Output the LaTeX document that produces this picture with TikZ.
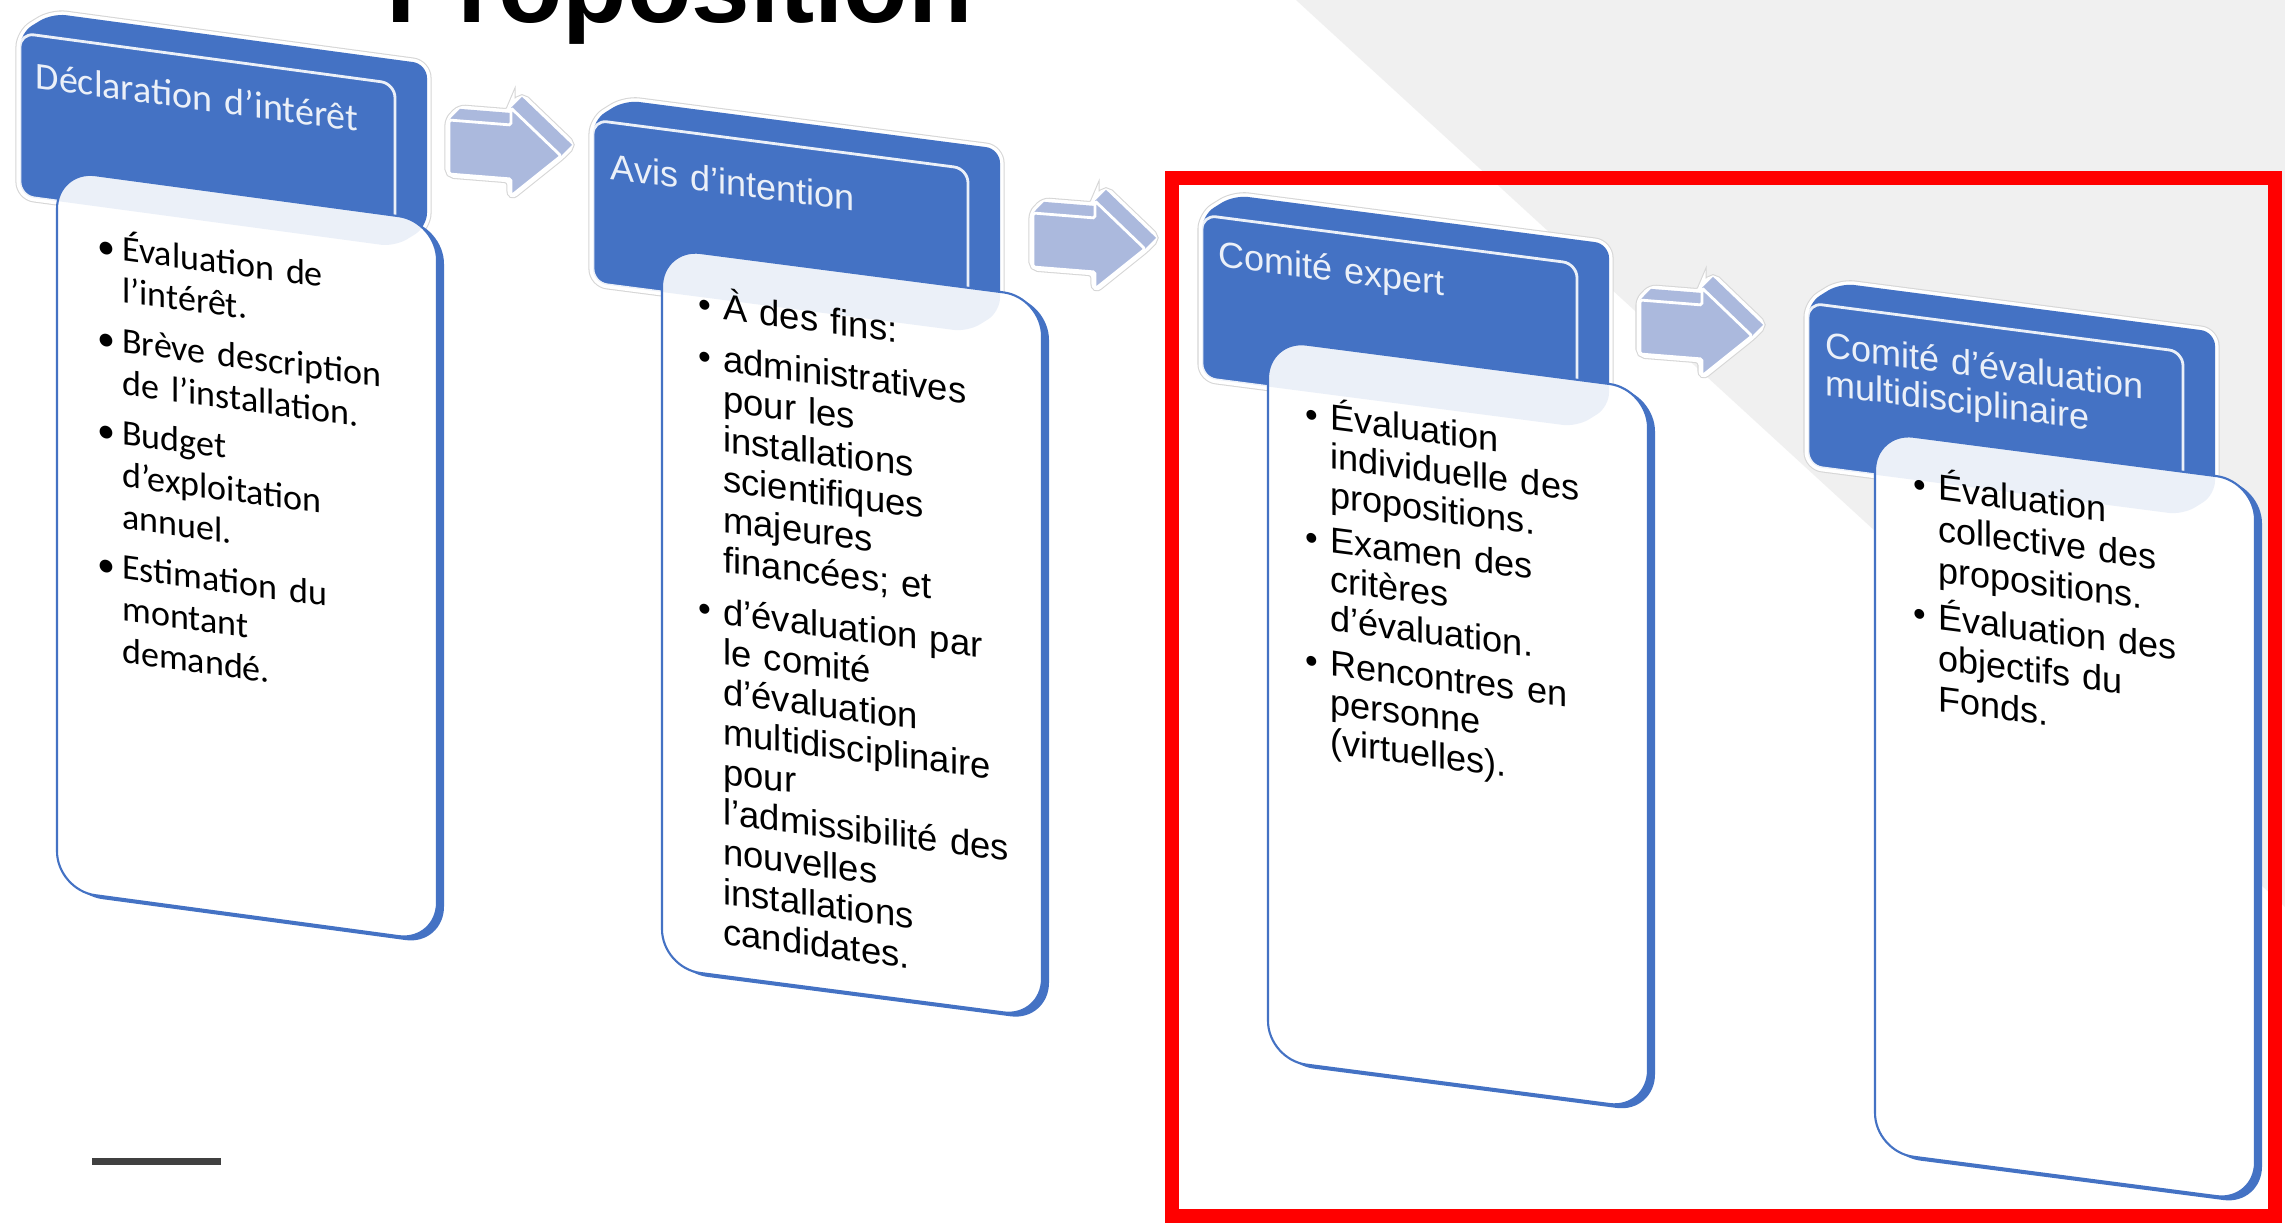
\documentclass[tikz,border=0pt]{standalone}
\usepackage{fontspec}
\setmainfont{Liberation Sans}
\newfontfamily\calibrifont{Carlito}
\usepackage{tikz}
\usetikzlibrary{positioning}

\definecolor{tabblue}{HTML}{4472C4}
\definecolor{arrowblue}{HTML}{ABB9DD}
\definecolor{bggray}{HTML}{F0F0F0}
\definecolor{glowgray}{HTML}{D6D6D6}
\definecolor{dashgray}{HTML}{404040}

\newcommand{\bulletmark}{\makebox[7pt][l]{\textbullet}}
\newcommand{\bulletpad}{\hspace*{7pt}}

\newcommand{\stageshape}{%
  \draw[glowouter] (0,163) -- (0,0) -- (32,-24) -- (407,-24) -- (407,139) -- (375,163) -- cycle;
  \draw[glowinner] (0,163) -- (0,0) -- (32,-24) -- (407,-24) -- (407,139) -- (375,163) -- cycle;
  \fill[tabblue, rounded corners=4pt] (0,163) -- (0,0) -- (32,-24) -- (407,-24) -- (407,139) -- (375,163) -- cycle;
  \draw[tabface] (0,0) rectangle (375,163);
}
\newcommand{\cardshape}[2]{%
  \fill[tabblue, rounded corners=11pt] ({#1+7},{#2+3}) rectangle ++(380,720);
  \filldraw[fill=white, draw=tabblue, line width=0.6pt, rounded corners=11pt] (#1,#2) rectangle ++(380,720);
  \fill[tabblue, fill opacity=0.1, rounded corners=4pt] (0,163) -- (0,0) -- (32,-24) -- (407,-24) -- (407,139) -- (375,163) -- cycle;
}
\newcommand{\arrowshape}{%
  \draw[glowouter, rounded corners=1.5pt] (0,54) -- (0,0) -- (11,-12) -- (62,-12) -- (62,-17) -- (73,-29) -- (123,15) -- (112,27) -- (62,71) -- (62,54) -- cycle;
  \draw[glowinner, rounded corners=1.5pt] (0,54) -- (0,0) -- (11,-12) -- (62,-12) -- (62,-17) -- (73,-29) -- (123,15) -- (112,27) -- (62,71) -- (62,54) -- cycle;
  \fill[arrowblue] (0,54) -- (0,0) -- (11,-12) -- (62,-12) -- (62,-17) -- (73,-29) -- (123,15) -- (112,27) -- (62,71) -- (62,54) -- cycle;
  \draw[tabface, rounded corners=0.5pt] (0,0) -- (62,0) -- (62,-17) -- (112,27) -- (62,71) -- (62,54) -- (0,54) -- cycle;
}

\begin{document}
\begin{tikzpicture}[
    x=0.01cm, y=-0.01cm,
    glowouter/.style={draw=glowgray, line width=2.6pt, rounded corners=4pt},
    glowinner/.style={draw=white, line width=2pt, rounded corners=4pt},
    tabface/.style={draw=white, line width=0.8pt, rounded corners=4pt},
    stagetitle/.style={anchor=base west, inner sep=0pt, text=white, text width=4.2cm, align=left, transform shape},
    stageitems/.style={anchor=base west, inner sep=0pt, text=black, text width=4.5cm, align=left, transform shape}
]

\useasboundingbox (0,0) rectangle (2285,1223);
\clip (0,0) rectangle (2285,1223);
\fill[white] (0,0) rectangle (2285,1223);
\fill[bggray] (1296,0) -- (2285,0) -- (2285,907) -- cycle;

\node[anchor=base west, inner sep=0pt, font=\bfseries\fontsize{30pt}{36pt}\selectfont] (heading) at (386,22) {Proposition};

\coordinate (arrow1) at (449,120);
\coordinate (arrow2) at (1033,213);
\coordinate (arrow3) at (1640,300);
\foreach \a in {arrow1,arrow2,arrow3} {
  \begin{scope}[shift={(\a)}, yslant=-0.08]
    \arrowshape
  \end{scope}
}

\begin{scope}[shift={(20,33)}, yslant=-0.135]
  \stageshape
  \node[stagetitle, font=\calibrifont\fontsize{10.8pt}{12pt}\selectfont] (decl) at (15,53) {Déclaration d’intérêt};
  \cardshape{37}{132}
  \node[stageitems, font=\calibrifont\fontsize{10.24pt}{11.95pt}\selectfont] (declitems) at (77,213.5) {%
    \bulletmark Évaluation de\\
    \bulletpad l’intérêt.\\[2.3pt]
    \bulletmark Brève description\\
    \bulletpad de l’installation.\\[2.3pt]
    \bulletmark Budget\\
    \bulletpad d’exploitation\\
    \bulletpad annuel.\\[2.3pt]
    \bulletmark Estimation du\\
    \bulletpad montant\\
    \bulletpad demandé.};
\end{scope}

\begin{scope}[shift={(593,120)}, yslant=-0.13]
  \stageshape
  \node[stagetitle, font=\fontsize{10.24pt}{12pt}\selectfont] (avis) at (17,57) {Avis d’intention};
  \cardshape{69}{119}
  \node[stageitems, font=\fontsize{10.36pt}{11.38pt}\selectfont] (avisitems) at (105,183) {%
    \bulletmark À des fins:\\[3.4pt]
    \bulletmark administratives\\
    \bulletpad pour les\\
    \bulletpad installations\\
    \bulletpad scientifiques\\
    \bulletpad majeures\\
    \bulletpad financées; et\\[3.4pt]
    \bulletmark d’évaluation par\\
    \bulletpad le comité\\
    \bulletpad d’évaluation\\
    \bulletpad multidisciplinaire\\
    \bulletpad pour\\
    \bulletpad l’admissibilité des\\
    \bulletpad nouvelles\\
    \bulletpad installations\\
    \bulletpad candidates.};
\end{scope}

\begin{scope}[shift={(1202,215)}, yslant=-0.13]
  \stageshape
  \node[stagetitle, font=\fontsize{10.24pt}{12pt}\selectfont] (expert) at (16,49) {Comité expert};
  \cardshape{66}{116}
  \node[stageitems, font=\fontsize{10.27pt}{11.1pt}\selectfont] (expertitems) at (103,198) {%
    \bulletmark Évaluation\\
    \bulletpad individuelle des\\
    \bulletpad propositions.\\[1.7pt]
    \bulletmark Examen des\\
    \bulletpad critères\\
    \bulletpad d’évaluation.\\[1.7pt]
    \bulletmark Rencontres en\\
    \bulletpad personne\\
    \bulletpad (virtuelles).};
\end{scope}

\begin{scope}[shift={(1808,303)}, yslant=-0.13]
  \stageshape
  \node[stagetitle, font=\fontsize{10.24pt}{10.8pt}\selectfont] (multi) at (17,52) {Comité d’évaluation\\multidisciplinaire};
  \cardshape{67}{120}
  \node[stageitems, font=\fontsize{10.24pt}{11.67pt}\selectfont] (multiitems) at (105,180) {%
    \bulletmark Évaluation\\
    \bulletpad collective des\\
    \bulletpad propositions.\\[1.7pt]
    \bulletmark Évaluation des\\
    \bulletpad objectifs du\\
    \bulletpad Fonds.};
\end{scope}

\draw[red, line width=4pt] (1172,178) rectangle (2275,1216);
\draw[dashgray, line width=2pt] (92,1161) -- (221,1161);

\end{tikzpicture}
\end{document}
